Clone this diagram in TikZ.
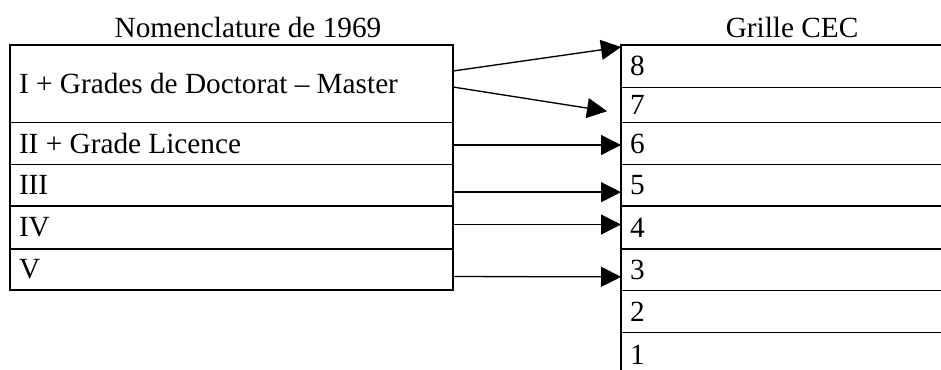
\documentclass[tikz,border=0pt]{standalone}
\usepackage{fontspec}
\setmainfont{Liberation Serif}
\usetikzlibrary{calc}
\usetikzlibrary{arrows.meta,positioning}
\def\px{0.41pt}

\begin{document}
\begin{tikzpicture}[x=\px, y=-\px,
  every node/.style={font=\fontsize{12}{14}\selectfont},
  cell/.style={draw, line width=0.55pt, outer sep=0pt, inner xsep=3.69pt, inner ysep=0pt, align=flush left},
  lcell/.style={cell, text width=174.25pt, minimum height=#1*\px},
  rcell/.style={cell, text width=150pt, minimum height=#1*\px},
  link/.style={line width=0.55pt, -{Triangle[length=8.2pt, width=8.2pt]}}]
\useasboundingbox (0,0) rectangle (941,369);
\clip (0,0) rectangle (941,369);

% titles
\node[anchor=base] (tleft) at (248,37) {Nomenclature de 1969};
\node[anchor=base] (tright) at (792,37) {Grille CEC};

% nomenclature 1969
\node[lcell=77.7, anchor=north west] (l1) at (10,45) {I + Grades de Doctorat – Master};
\node[lcell=41.6, below=0pt of l1] (l2) {II + Grade Licence};
\node[lcell=41.7, below=0pt of l2] (l3) {III};
\node[lcell=43, below=0pt of l3] (l4) {IV};
\node[lcell=41, below=0pt of l4] (l5) {V};

% grille CEC
\node[rcell=42.7, anchor=north west] (r8) at (621,45) {8};
\node[rcell=35, below=0pt of r8] (r7) {7};
\node[rcell=41.6, below=0pt of r7] (r6) {6};
\node[rcell=41.7, below=0pt of r6] (r5) {5};
\node[rcell=43, below=0pt of r5] (r4) {4};
\node[rcell=41.7, below=0pt of r4] (r3) {3};
\node[rcell=42, below=0pt of r3] (r2) {2};
\node[rcell=45, below=0pt of r2] (r1) {1};

% correspondences
\draw[link] ($(l1.north east)+(0,26)$) -- ($(r8.north west)+(0,2)$);
\draw[link] ($(l1.north east)+(0,42)$) -- ($(r7.west)+(-14,6)$);
\draw[link] ($(l2.east)+(0,1.5)$) -- ($(r6.west)+(0,1.5)$);
\draw[link] ($(l3.east)+(0,7)$) -- ($(r5.west)+(0,7)$);
\draw[link] ($(l4.east)+(0,-3)$) -- ($(r4.west)+(0,-3)$);
\draw[link] ($(l5.east)+(0,7)$) -- ($(r3.west)+(0,7)$);

\end{tikzpicture}
\end{document}
